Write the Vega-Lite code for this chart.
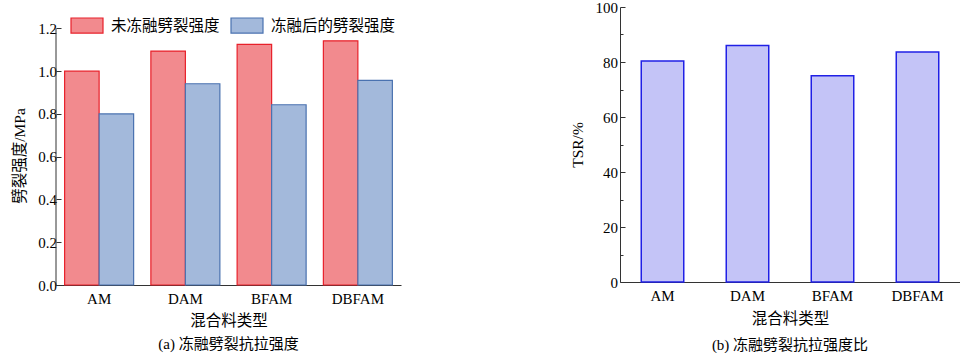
{
  "$schema": "https://vega.github.io/schema/vega-lite/v6.json",
  "background": "white",
  "padding": {"left": 12, "top": 0, "right": 0, "bottom": 0},
  "spacing": 169,
  "config": {
    "font": "Liberation Serif, Noto Sans CJK SC",
    "view": {"stroke": null},
    "axis": {
      "domainColor": "#333",
      "tickColor": "#333",
      "labelFont": "Liberation Serif, Noto Sans CJK SC",
      "titleFont": "Liberation Serif, Noto Sans CJK SC",
      "labelFontSize": 15,
      "titleFontSize": 15.5,
      "titleFontWeight": "normal",
      "labelColor": "#000",
      "titleColor": "#000",
      "grid": false
    },
    "title": {"font": "Liberation Serif, Noto Sans CJK SC", "fontSize": 15, "fontWeight": "normal", "color": "#000"}
  },
  "datasets": {
    "split": [
      {"type": "AM", "cond": "未冻融劈裂强度", "value": 1.0},
      {"type": "AM", "cond": "冻融后的劈裂强度", "value": 0.8},
      {"type": "DAM", "cond": "未冻融劈裂强度", "value": 1.094},
      {"type": "DAM", "cond": "冻融后的劈裂强度", "value": 0.941},
      {"type": "BFAM", "cond": "未冻融劈裂强度", "value": 1.125},
      {"type": "BFAM", "cond": "冻融后的劈裂强度", "value": 0.843},
      {"type": "DBFAM", "cond": "未冻融劈裂强度", "value": 1.142},
      {"type": "DBFAM", "cond": "冻融后的劈裂强度", "value": 0.957}
    ],
    "tsr": [
      {"type": "AM", "tsr": 80.4},
      {"type": "DAM", "tsr": 86.0},
      {"type": "BFAM", "tsr": 75.0},
      {"type": "DBFAM", "tsr": 83.6}
    ]
  },
  "hconcat": [
    {
      "width": 345,
      "height": 278,
      "title": {"text": "(a) 冻融劈裂抗拉强度", "orient": "bottom", "offset": 8},
      "data": {"name": "split"},
      "layer": [
        {
          "mark": {"type": "bar", "strokeWidth": 1.2},
          "encoding": {
            "x": {
              "field": "type", "type": "nominal",
              "sort": ["AM", "DAM", "BFAM", "DBFAM"],
              "scale": {"paddingInner": 0.2, "paddingOuter": 0.1},
              "axis": {"title": "混合料类型", "labelAngle": 0, "ticks": false, "labelPadding": 6, "titlePadding": 7}
            },
            "xOffset": {"field": "cond", "type": "nominal", "sort": ["未冻融劈裂强度", "冻融后的劈裂强度"]},
            "y": {
              "field": "value", "type": "quantitative",
              "scale": {"domain": [0, 1.3], "nice": false},
              "axis": {
                "title": "劈裂强度/MPa",
                "titleY": 148.5,
                "titlePadding": 10.5,
                "domain": false,
                "values": [0, 0.1, 0.2, 0.3, 0.4, 0.5, 0.6, 0.7, 0.8, 0.9, 1.0, 1.1, 1.2],
                "labelExpr": "round(datum.value*10) % 2 == 0 ? format(datum.value, '.1f') : ''",
                "tickSize": {"condition": {"test": "round(datum.value*10) % 2 == 0", "value": -5}, "value": -3},
                "labelPadding": 4.5
              }
            },
            "fill": {
              "field": "cond", "type": "nominal",
              "scale": {"domain": ["未冻融劈裂强度", "冻融后的劈裂强度"], "range": ["#f28a8e", "#a3b9db"]},
              "legend": {
                "orient": "none", "legendX": 14, "legendY": 1.5,
                "direction": "horizontal", "title": null,
                "symbolType": "M-1,-0.47L1,-0.47L1,0.47L-1,0.47Z",
                "symbolSize": 1024,
                "symbolStrokeWidth": 1.2,
                "labelFontSize": 15.5,
                "labelFont": "Liberation Serif, Noto Sans CJK SC",
                "labelColor": "#000",
                "labelOffset": 7,
                "columnPadding": 8
              }
            },
            "stroke": {
              "field": "cond", "type": "nominal",
              "scale": {"domain": ["未冻融劈裂强度", "冻融后的劈裂强度"], "range": ["#e8202a", "#4a72b0"]}
            }
          }
        },
        {
          "data": {"values": [{}]},
          "mark": {"type": "rule", "color": "#333"},
          "encoding": {
            "x": {"datum": "AM", "type": "nominal", "bandPosition": -0.125},
            "y": {"datum": 0, "type": "quantitative"},
            "y2": {"datum": 1.2}
          }
        }
      ]
    },
    {
      "width": 340,
      "height": 275,
      "title": {"text": "(b) 冻融劈裂抗拉强度比", "orient": "bottom", "offset": 11},
      "data": {"name": "tsr"},
      "mark": {"type": "bar", "fill": "#c4c4f7", "stroke": "#2020e6", "strokeWidth": 1.5},
      "encoding": {
        "x": {
          "field": "type", "type": "nominal",
          "sort": ["AM", "DAM", "BFAM", "DBFAM"],
          "scale": {"paddingInner": 0.5, "paddingOuter": 0.25},
          "axis": {"title": "混合料类型", "labelAngle": 0, "ticks": false, "labelPadding": 6, "titlePadding": 8}
        },
        "y": {
          "field": "tsr", "type": "quantitative",
          "scale": {"domain": [0, 100], "nice": false},
          "axis": {
            "title": "TSR/%",
            "titlePadding": 9.5,
            "values": [0, 10, 20, 30, 40, 50, 60, 70, 80, 90, 100],
            "labelExpr": "datum.value % 20 == 0 ? format(datum.value, 'd') : ''",
            "tickSize": {"condition": {"test": "datum.value % 20 == 0", "value": -5}, "value": -3},
            "labelPadding": 7.5
          }
        }
      }
    }
  ]
}
